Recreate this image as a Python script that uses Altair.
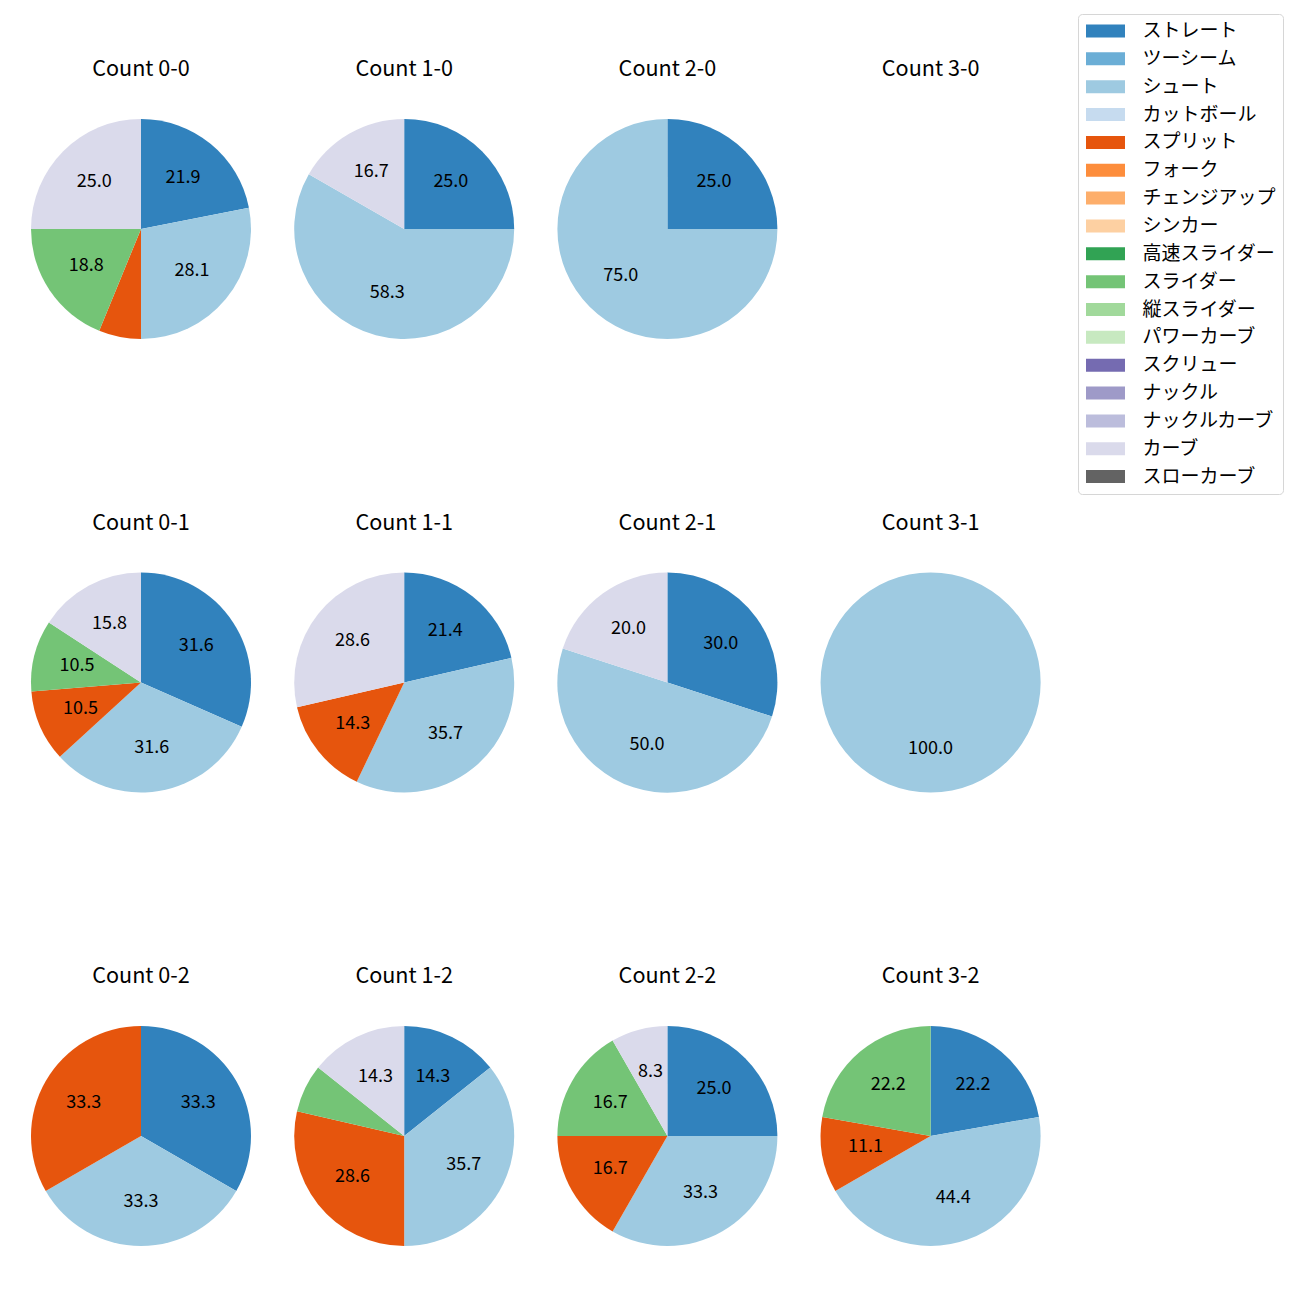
import altair as alt
import pandas as pd

FONT = "Noto Sans CJK JP"

counts = ["0-0", "1-0", "2-0", "3-0",
          "0-1", "1-1", "2-1", "3-1",
          "0-2", "1-2", "2-2", "3-2"]

pitch_types = ["ストレート", "ツーシーム", "シュート", "カットボール", "スプリット",
               "フォーク", "チェンジアップ", "シンカー", "高速スライダー", "スライダー",
               "縦スライダー", "パワーカーブ", "スクリュー", "ナックル", "ナックルカーブ",
               "カーブ", "スローカーブ"]
pitch_colors = ["#3182bd", "#6baed6", "#9ecae1", "#c6dbef", "#e6550d",
                "#fd8d3c", "#fdae6b", "#fdd0a2", "#31a354", "#74c476",
                "#a1d99b", "#c7e9c0", "#756bb1", "#9e9ac8", "#bcbddc",
                "#dadaeb", "#636363"]

# percentages per count (order follows `counts`)
straight = [21.9, 25.0, 25.0, 0, 31.6, 21.4, 30.0, 0, 33.3, 14.3, 25.0, 22.2]
shoot = [28.1, 58.3, 75.0, 0, 31.6, 35.7, 50.0, 100.0, 33.3, 35.7, 33.3, 44.4]
split = [6.2, 0, 0, 0, 10.5, 14.3, 0, 0, 33.3, 28.6, 16.7, 11.1]
slider = [18.8, 0, 0, 0, 10.5, 0, 0, 0, 0, 7.1, 16.7, 22.2]
curve = [25.0, 16.7, 0, 0, 15.8, 28.6, 20.0, 0, 0, 14.3, 8.3, 0]

series = {"ストレート": straight, "シュート": shoot, "スプリット": split,
          "スライダー": slider, "カーブ": curve}

rows = []
for t, vals in series.items():
    for c, v in zip(counts, vals):
        if v > 0:
            rows.append({"cnt": c, "type": t, "value": v,
                         "ord": pitch_types.index(t)})
df = pd.DataFrame(rows)

color = alt.Color(
    "type:N",
    scale=alt.Scale(domain=pitch_types, range=pitch_colors),
    legend=alt.Legend(
        title=None,
        orient="none",
        legendX=1057,
        legendY=-95,
        symbolType="M-1.95,-0.65H1.95V0.65H-1.95Z",
        symbolSize=400,
        symbolOffset=10.5,
        symbolStrokeWidth=0,
        symbolOpacity=1,
        labelFont=FONT,
        labelFontSize=19,
        labelColor="black",
        labelOffset=27,
        rowPadding=7.85,
        padding=7,
        strokeColor="#d6d6d6",
        fillColor="white",
        cornerRadius=4,
    ),
)


def panel(c):
    base = (
        alt.Chart(df)
        .transform_filter(alt.datum.cnt == c)
        .transform_calculate(
            label="datum.value >= 7.5 ? format(datum.value, '.1f') : ''"
        )
        .encode(
            theta=alt.Theta("value:Q", stack=True),
            order=alt.Order("ord:Q", sort="ascending"),
        )
    )
    arc = base.mark_arc(outerRadius=110).encode(color=color)
    txt = base.mark_text(radius=66, fontSize=18, font=FONT, color="black").encode(
        text="label:N"
    )
    return alt.layer(arc, txt).properties(
        width=240,
        height=240,
        title=alt.TitleParams(
            text=f"Count {c}",
            font=FONT,
            fontSize=21.6,
            fontWeight="normal",
            color="black",
            anchor="middle",
            baseline="alphabetic",
            offset=11,
        ),
    )


row_charts = []
for r in range(3):
    row = alt.hconcat(*[panel(c) for c in counts[r * 4:(r + 1) * 4]], spacing=23.2)
    row = row.resolve_scale(theta="independent")
    row_charts.append(row)

chart = (
    alt.vconcat(*row_charts, spacing=163.5)
    .resolve_scale(theta="independent")
    .properties(padding={"left": 13, "top": 5, "right": 5, "bottom": 5})
    .configure_view(stroke=None)
)

chart.save("out.html", embed_options={"renderer": "svg", "actions": False})
